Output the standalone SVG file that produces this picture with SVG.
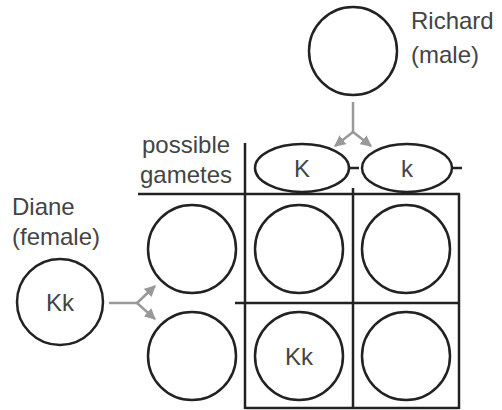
<svg xmlns="http://www.w3.org/2000/svg" width="502" height="410" viewBox="0 0 502 410">
<style>
.c{fill:#fff;stroke:#222;stroke-width:2.5}
.t{font-family:"Liberation Sans",Arial,sans-serif;font-size:24px;fill:#444}
.m{text-anchor:middle}
.g{stroke:#222;stroke-width:2.5;fill:none}
.a{stroke:#999;stroke-width:2.5;fill:none}
</style>
<defs>
<marker id="ah" viewBox="0 0 10 10" refX="9" refY="5" markerWidth="4.5" markerHeight="4.5" orient="auto" markerUnits="strokeWidth">
<path d="M0,0 L10,5 L0,10 z" fill="#999"/>
</marker>
</defs>
<rect width="502" height="410" fill="#fff"/>
<g id="grid">
<line class="g" x1="138" y1="194" x2="460" y2="194"/>
<line class="g" x1="245" y1="143" x2="245" y2="409"/>
<line class="g" x1="353" y1="188" x2="353" y2="409"/>
<line class="g" x1="459" y1="194" x2="459" y2="409"/>
<line class="g" x1="245" y1="408" x2="459" y2="408"/>
<line class="g" x1="235" y1="303" x2="459" y2="303"/>
<line class="g" x1="350" y1="168" x2="359" y2="168"/>
<line class="g" x1="452" y1="168" x2="462" y2="168"/>
</g>
<g id="richard">
<circle class="c" cx="353" cy="51" r="44"/>
<text class="t" x="411" y="29">Richard</text>
<text class="t" x="411" y="63">(male)</text>
</g>
<g id="diane">
<circle class="c" cx="60" cy="302" r="43"/>
<text class="t m" x="60" y="311">Kk</text>
<text class="t" x="12" y="215">Diane</text>
<text class="t" x="12" y="245">(female)</text>
</g>
<g id="label">
<text class="t" x="142" y="153">possible</text>
<text class="t" x="140" y="183">gametes</text>
</g>
<g id="gameteK">
<ellipse class="c" cx="302" cy="168" rx="47" ry="24"/>
<text class="t m" x="302" y="177">K</text>
</g>
<g id="gametek">
<ellipse class="c" cx="407" cy="168" rx="45" ry="24"/>
<text class="t m" x="407" y="177">k</text>
</g>
<g id="fgam1"><circle class="c" cx="192" cy="249" r="44"/></g>
<g id="fgam2"><circle class="c" cx="192" cy="356" r="44"/></g>
<g id="cell11"><circle class="c" cx="299" cy="249" r="44"/></g>
<g id="cell12"><circle class="c" cx="406" cy="249" r="44"/></g>
<g id="cell21"><circle class="c" cx="299" cy="356" r="44"/><text class="t m" x="299" y="365">Kk</text></g>
<g id="cell22"><circle class="c" cx="406" cy="356" r="44"/></g>
<g id="connectors">
<path class="a" d="M353,102 L353,132"/>
<path class="a" d="M353,132 L335,146" marker-end="url(#ah)"/>
<path class="a" d="M353,132 L371,146" marker-end="url(#ah)"/>
<path class="a" d="M109,303 L137,303"/>
<path class="a" d="M137,303 L155,286" marker-end="url(#ah)"/>
<path class="a" d="M137,303 L155,319" marker-end="url(#ah)"/>
</g>
</svg>
